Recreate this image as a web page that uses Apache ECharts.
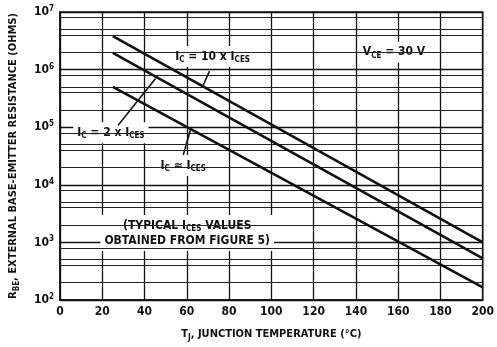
<!DOCTYPE html>
<html>
<head>
<meta charset="utf-8">
<script src="https://cdn.jsdelivr.net/npm/echarts@6/dist/echarts.min.js"></script>
<style>
  html, body { margin: 0; padding: 0; background: #fff; }
  #chart { width: 497px; height: 347px; }
</style>
</head>
<body>
<div id="chart"></div>
<script>
// junction temperature, deg C (curves are straight on log scale, so two points each)
const temps = [25, 200];
// R_BE in ohms
const rTenX = [3.8e6, 1.0e3];   // Ic = 10 x Ices
const rTwoX = [1.95e6, 5.3e2];  // Ic = 2 x Ices
const rOneX = [5.0e5, 1.65e2];  // Ic ~ Ices

// minor horizontal rules (2, 4, 5, 8 in every decade)
const minorRules = [
  200, 400, 500, 800,
  2000, 4000, 5000, 8000,
  20000, 40000, 50000, 80000,
  200000, 400000, 500000, 800000,
  2000000, 4000000, 5000000, 8000000
];

// annotation texts and where they sit (data coords)
const noteTexts = [
  'I{s|C} = 10 x I{s|CES}',
  'I{s|C} = 2 x I{s|CES}',
  'I{s|C} ≈ I{s|CES}',
  'V{s|CE} = 30 V',
  '(TYPICAL I{s|CES} VALUES\nOBTAINED FROM FIGURE 5)'
];
const noteX = [72.2, 24.1, 58.3, 158, 60.2];
const noteY = [1.68e6, 8.0e4, 2.17e4, 2.0e6, 1.45e3];

// leader lines from labels to curves
const leaders = [
  [[70.7, 9.4e5], [67.6, 5.2e5]],
  [[27.5, 1.08e5], [45.2, 7.0e5]],
  [[58.3, 3.3e4], [61.9, 9.5e4]]
];

const FONT = "'Liberation Sans Narrow', 'DejaVu Sans Condensed', sans-serif";
const INK = '#111';

const richSub = {
  s: { fontSize: 8, fontFamily: FONT, fontWeight: 'bold', color: INK, verticalAlign: 'bottom', lineHeight: 15, padding: [4, 0, 0, 0] }
};

const chart = echarts.init(document.getElementById('chart'));

const curveStyle = { color: INK, width: 2.6 };

const series = [
  {
    type: 'line', name: 'rules', data: [], silent: true,
    markLine: {
      silent: true, symbol: 'none', animation: false,
      label: { show: false },
      lineStyle: { color: '#222', width: 1, type: 'solid' },
      data: minorRules.map(v => ({ yAxis: v }))
    },
    z: 1
  },
  { type: 'line', name: '10x', data: temps.map((t, i) => [t, rTenX[i]]), showSymbol: false, lineStyle: curveStyle, z: 5, animation: false },
  { type: 'line', name: '2x', data: temps.map((t, i) => [t, rTwoX[i]]), showSymbol: false, lineStyle: curveStyle, z: 5, animation: false },
  { type: 'line', name: '1x', data: temps.map((t, i) => [t, rOneX[i]]), showSymbol: false, lineStyle: curveStyle, z: 5, animation: false },
  {
    type: 'scatter', name: 'notes', symbolSize: 0, z: 3, silent: true, animation: false,
    itemStyle: { opacity: 1, color: INK },
    data: noteTexts.map((t, i) => ({ value: [noteX[i], noteY[i]], text: t })),
    label: {
      show: true, position: 'inside',
      formatter: p => p.data.text,
      fontFamily: FONT, fontWeight: 'bold', fontSize: 12, color: INK,
      lineHeight: 15, align: 'center',
      backgroundColor: '#fff', padding: [3, 4],
      rich: richSub
    }
  }
];

leaders.forEach(seg => {
  series.push({
    type: 'line', data: seg, showSymbol: false, silent: true, animation: false,
    lineStyle: { color: INK, width: 1.6 }, z: 4
  });
});

chart.setOption({
  animation: false,
  backgroundColor: '#fff',
  grid: {
    left: 59, right: 6, top: 12, bottom: 45,
    show: true, borderColor: INK, borderWidth: 1.5, backgroundColor: 'transparent'
  },
  xAxis: {
    type: 'value', min: 0, max: 200, interval: 20,
    name: 'T{s|J}, JUNCTION TEMPERATURE (°C)',
    nameLocation: 'middle', nameGap: 27,
    nameTextStyle: { fontFamily: FONT, fontWeight: 'bold', fontSize: 11, color: INK, rich: richSub },
    axisLine: { show: true, lineStyle: { color: INK, width: 1.5 } },
    axisTick: { show: false },
    axisLabel: { fontFamily: FONT, fontWeight: 'bold', fontSize: 12, color: INK, margin: 6 },
    splitLine: { show: true, lineStyle: { color: INK, width: 1.3 } }
  },
  yAxis: {
    type: 'log', logBase: 10, min: 100, max: 1e7, splitNumber: 5,
    name: 'R{s|BE}, EXTERNAL BASE-EMITTER RESISTANCE (OHMS)',
    nameLocation: 'middle', nameGap: 39, nameRotate: 90,
    nameTextStyle: { fontFamily: FONT, fontWeight: 'bold', fontSize: 11, color: INK, rich: richSub },
    axisLine: { show: true, lineStyle: { color: INK, width: 1.5 } },
    axisTick: { show: false },
    axisLabel: {
      margin: 6,
      fontFamily: FONT, fontWeight: 'bold', fontSize: 12, color: INK,
      formatter: v => '10{p|' + Math.round(Math.log10(v)) + '}',
      rich: {
        p: { fontSize: 8, fontFamily: FONT, fontWeight: 'bold', color: INK, verticalAlign: 'top', padding: [0, 0, 6, 0] }
      }
    },
    splitLine: { show: true, lineStyle: { color: INK, width: 1.3 } }
  },
  series: series
});
</script>
</body>
</html>
